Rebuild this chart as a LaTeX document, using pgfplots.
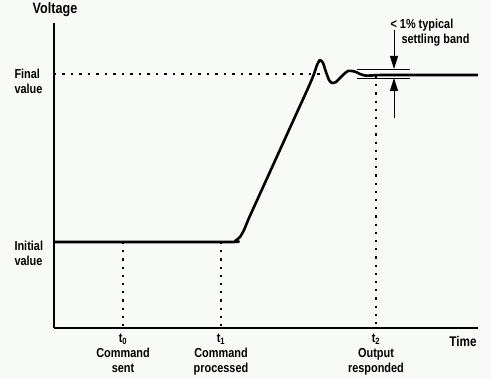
\documentclass[border=0pt]{standalone}
\usepackage{fontspec}
\setmainfont{Liberation Sans}[FakeStretch=0.84]
\usepackage{pgfplots}
\pgfplotsset{compat=1.18}
\usetikzlibrary{arrows.meta}
\definecolor{bg}{RGB}{248,250,248}
\tikzset{lbl/.style={font=\bfseries\fontsize{13}{15}\selectfont}}
\begin{document}
\begin{tikzpicture}[x=1pt,y=1pt]
\fill[bg] (-54,-51) rectangle (437,328);
\useasboundingbox (-54,-51) rectangle (437,328);
\begin{axis}[
  at={(0,0)}, anchor=south west,
  scale only axis, width=424pt, height=305pt,
  xmin=0, xmax=424, ymin=0, ymax=305,
  axis lines=left, axis line style={-, line width=1.3pt},
  xtick=\empty, ytick=\empty,
  clip=false,
]
% dotted reference lines
\addplot[black, line width=2.2pt, dash pattern=on 2.2pt off 6.3pt] coordinates {(0,254) (266,254)};
\addplot[black, line width=2.2pt, dash pattern=on 2.2pt off 6pt] coordinates {(69,86) (69,0)};
\addplot[black, line width=2.2pt, dash pattern=on 2.2pt off 6pt] coordinates {(167,86) (167,0)};
\addplot[black, line width=2.2pt, dash pattern=on 2.2pt off 6pt] coordinates {(322,252) (322,0)};
% settling band lines
\addplot[black, line width=0.9pt] coordinates {(303,259) (356,259)};
\addplot[black, line width=0.9pt] coordinates {(303,250) (356,250)};
% arrows
\addplot[black, line width=0.9pt, -{Triangle[width=8pt,length=13pt]}] coordinates {(340,298) (340,259)};
\addplot[black, line width=0.9pt, -{Triangle[width=8pt,length=13pt]}] coordinates {(340,210) (340,250)};
% main response curve
\addplot[black, line width=2.6pt, line join=round, smooth, tension=0.35] coordinates {
(0,86) (176,86) (181,87) (186,91) (190,98) (195,110) (205,132) (215,154) (225,176) (235,198) (245,220) (255,242) (260,254) (263,263) (266,268) (269,265) (272,256) (275,248) (278,245) (282,246) (286,250) (290,254) (294,257) (298,257) (302,256) (306,254) (311,252.5) (318,252.5) (330,253) (424,253)};
% labels
\node[lbl, anchor=south] at (axis cs:1,308) {\fontsize{15}{17}\selectfont Voltage};
\node[lbl, anchor=west, align=left] at (axis cs:-43,246.5) {Final\\value};
\node[lbl, anchor=west, align=left] at (axis cs:-43,74.5) {Initial\\value};
\node[lbl, anchor=north, align=center, yshift=-2pt] at (axis cs:69,0) {t\textsubscript{0}\\Command\\sent};
\node[lbl, anchor=north, align=center, yshift=-2pt] at (axis cs:167,0) {t\textsubscript{1}\\Command\\processed};
\node[lbl, anchor=north, align=center, yshift=-2pt] at (axis cs:322,0) {t\textsubscript{2}\\Output\\responded};
\node[lbl] at (axis cs:409,-14) {\fontsize{14}{16}\selectfont Time};
\node[lbl, anchor=west] at (axis cs:333,303) {< 1\% typical};
\node[lbl, anchor=west] at (axis cs:344,288) {settling band};
\end{axis}
\end{tikzpicture}
\end{document}
